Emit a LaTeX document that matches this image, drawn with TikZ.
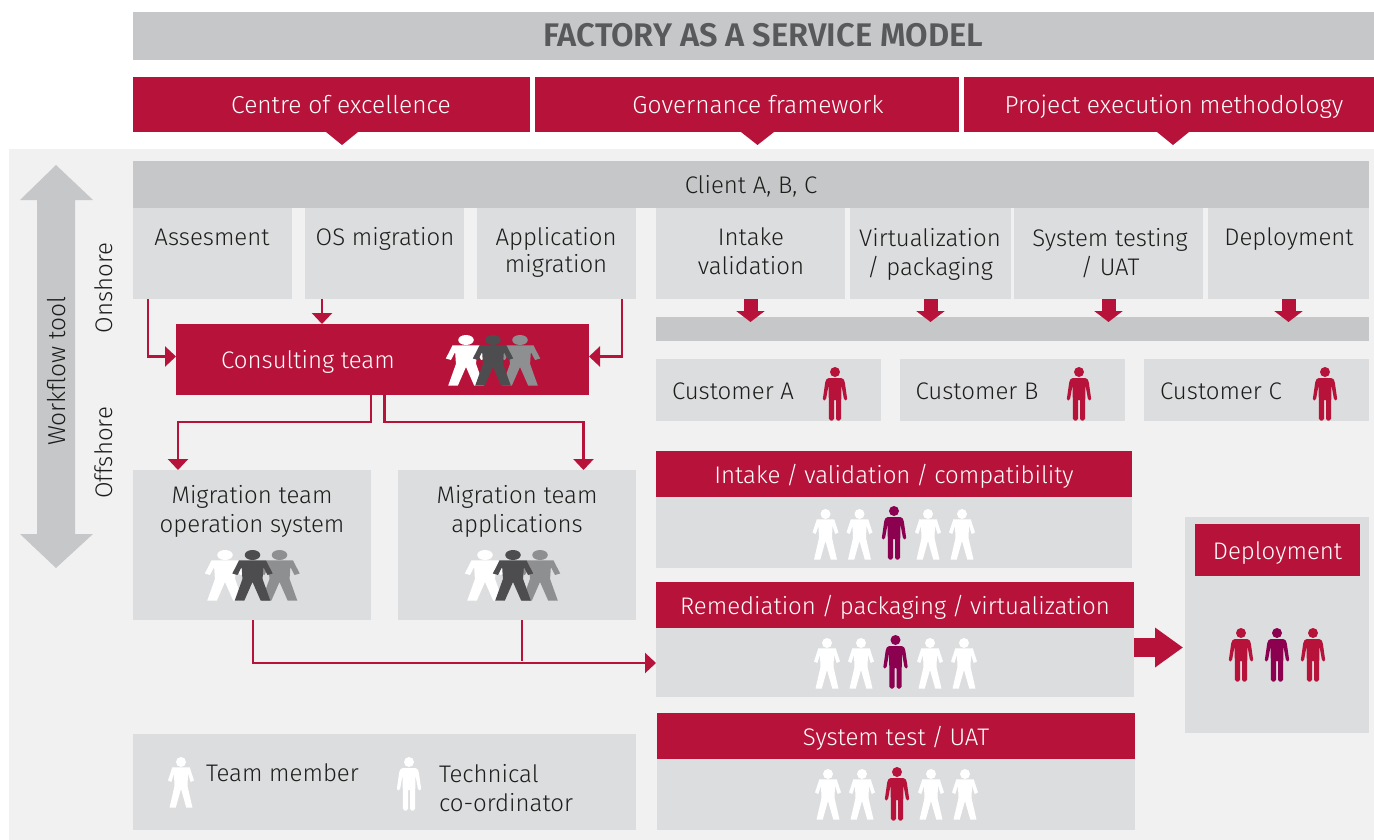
\documentclass[tikz,border=0pt]{standalone}
\usepackage{fontspec}
\setmainfont{Fira Sans}[UprightFont=* Light,BoldFont=* SemiBold]
\usetikzlibrary{arrows.meta,calc}
\definecolor{rd}{HTML}{B7133A}
\definecolor{pur}{HTML}{8C0050}
\definecolor{lg}{HTML}{DCDDDF}
\definecolor{mg}{HTML}{C6C7C9}
\definecolor{bgp}{HTML}{F1F1F1}
\definecolor{ink}{HTML}{1D1D1B}
\definecolor{dk}{HTML}{4D4D4F}
\definecolor{gr}{HTML}{8E8F91}
\definecolor{ttl}{HTML}{58595B}
\newcommand{\bx}[7][]{% style, name, x1,y1,x2,y2, text
  \node[#1,minimum width={(#5-#3)*1pt},minimum height={(#6-#4)*1pt}] (#2) at ({(#3+#5)/2},{(#4+#6)/2}) {#7};}
\newcommand{\slh}{\hspace{-1pt}/\hspace{-1pt}}
\newcommand{\tm}[4][1]{\begin{scope}[shift={(#2,#3)},xscale=#1]
  \fill[#4] (0,0) circle (5);
  \fill[#4] (-8.7,5.3)--(8.7,5.3)--(13,18.5)--(9.7,20)--(7,12)--(6.5,24)--(11.5,45.7)--(5.3,45.7)--(0,27)--(-5.3,45.7)--(-11.5,45.7)--(-6.5,24)--(-7,12)--(-9.7,20)--(-13,18.5)--cycle;
\end{scope}}
\newcommand{\tc}[3]{\begin{scope}[shift={(#1,#2)}]
  \fill[#3] (0,0) circle (5);
  \fill[#3,rounded corners=1.6] (-7.8,6)--(7.8,6)--(9.6,9)--(12.4,28.5)--(9.2,28.5)--(6.4,13)--(6,48.5)--(1,48.5)--(1,27)--(-1,27)--(-1,48.5)--(-6,48.5)--(-6.4,13)--(-9.2,28.5)--(-12.4,28.5)--(-9.6,9)--cycle;
\end{scope}}
\tikzset{
  x=1pt,y=-1pt,
  base/.style={inner sep=0pt,outer sep=0pt,text=ink,font=\fontsize{24}{27}\selectfont,text height=18pt,text depth=0pt},
  light/.style={base,fill=lg},
  mid/.style={base,fill=mg},
  red/.style={base,fill=rd,text=white},
  lab/.style={inner sep=0pt,outer sep=0pt,text=ink,align=center,font=\fontsize{24}{29}\selectfont},
  one/.style={inner sep=0pt,outer sep=0pt,text=ink,font=\fontsize{24}{28.5}\selectfont,text height=17pt,text depth=0pt},
  onew/.style={one,text=white},
  top/.style={onew,font=\fontsize{24.5}{28.5}\selectfont},
  conn/.style={draw=rd,line width=2.4pt,-{Triangle[width=20pt,length=11pt]}},
  line/.style={draw=rd,line width=2.4pt},
  block/.style={draw=rd,line width=14pt,-{Triangle[width=28pt,length=11pt]}},
  blockb/.style={draw=rd,line width=19pt,-{Triangle[width=38pt,length=28pt]}},
}
\begin{document}
\begin{tikzpicture}
\useasboundingbox (0,0) rectangle (1374,840);
\fill[white] (0,0) rectangle (1374,840);
\fill[bgp] (9,149) rectangle (1374,840);
% top
\bx[mid]{titlebar}{133}{12}{1374}{60}{}
\node[one,text=ttl,font=\fontsize{32.7}{36}\bfseries,text height=22pt] (title) at (763.5,36) {FACTORY AS A SERVICE MODEL};
\fill[rd] (326,132)--(358,132)--(342,145)--cycle;
\fill[rd] (741,132)--(774,132)--(757.5,145)--cycle;
\fill[rd] (1157,132)--(1189,132)--(1173,145)--cycle;
\bx[red]{coe}{133}{77}{530}{132}{}
\bx[red]{gov}{535}{77}{959}{132}{}
\bx[red]{pem}{964}{77}{1374}{132}{}
\node[top] (tcoe) at (341,105.5) {Centre of excellence};
\node[top] (tgov) at (758,105.5) {Governance framework};
\node[top] (tpem) at (1174,105.5) {Project execution methodology};
% workflow arrow
\fill[mg] (56,165)--(93,200)--(75,200)--(75,534)--(93,534)--(56,568)--(20,534)--(37,534)--(37,200)--(20,200)--cycle;
\node[lab,rotate=90,font=\fontsize{24.5}{28}\selectfont] (wf) at (57,371) {Workflow tool};
\node[lab,rotate=90] (on) at (104,288) {Onshore};
\node[lab,rotate=90] (off) at (104,453) {Offshore};
% client
\bx[mid]{client}{133}{161}{1369}{208}{Client A, B, C}
\bx[light]{asses}{133}{208}{292}{299}{}
\bx[light]{osm}{305}{208}{464}{299}{}
\bx[light]{appm}{477}{208}{636}{299}{}
\bx[light]{intv}{656}{208}{845}{299}{}
\bx[light]{virt}{850}{208}{1011}{299}{}
\bx[light]{syst}{1014}{208}{1203}{299}{}
\bx[light]{depl}{1208}{208}{1369}{299}{}
\node[one] (t1) at (212,236.5) {Assesment};
\node[one] (t2) at (385,236.5) {OS migration};
\node[lab,anchor=north] (t3) at (556,227) {Application\\[-2pt]migration};
\node[lab,anchor=north] (t4) at (751,228) {Intake\\validation};
\node[lab,anchor=north] (t5) at (930,228) {Virtualization\\/ packaging};
\node[lab,anchor=north] (t6) at (1110,228) {System testing\\/ UAT};
\node[one] (t7) at (1289,236.5) {Deployment};
\bx[mid]{bar}{656}{317}{1369}{341}{}
\coordinate (barT) at (0,322);
\foreach \n in {intv,virt,syst,depl}{\draw[block] (\n.south) -- (\n.south |- barT);}
% customers
\bx[light]{ca}{656}{359}{881}{421}{}
\bx[light]{cb}{900}{359}{1125}{421}{}
\bx[light]{cc}{1144}{359}{1369}{421}{}
\node[one] (tca) at (733,391) {Customer A};
\node[one] (tcb) at (977,391) {Customer B};
\node[one] (tcc) at (1221,391) {Customer C};
\tc{835}{372}{rd}\tc{1079}{372}{rd}\tc{1325}{372}{rd}
% consulting
\bx[red]{cons}{176}{324}{589}{395}{}
\node[onew] (tcons) at (308,359.5) {Consulting team};
\tm[1.55]{466}{340}{white}\tm[1.55]{520}{340}{gr}\tm[1.55]{493}{340}{dk}
\coordinate (a1) at (148,356.5);
\coordinate (a2) at (322,0);
\coordinate (a3) at (622,356.5);
\draw[conn] (a1 |- asses.south) -- (a1) -- (cons.west |- a1);
\draw[conn] (a2 |- osm.south) -- (a2 |- cons.north);
\draw[conn] (a3 |- appm.south) -- (a3) -- (cons.east |- a3);
% migration
\bx[light]{mig1}{133}{470}{371}{620}{}
\bx[light]{mig2}{398}{470}{636}{620}{}
\node[lab,anchor=north] (tm1) at (252,485) {Migration team\\operation system};
\node[lab,anchor=north] (tm2) at (517,485) {Migration team\\applications};
\tm[1.55]{225}{555}{white}\tm[1.55]{279.5}{555}{gr}\tm[1.55]{252.5}{555}{dk}
\tm[1.55]{485}{555}{white}\tm[1.55]{540}{555}{gr}\tm[1.55]{513}{555}{dk}
\coordinate (b1) at (371,422);
\coordinate (b2) at (178,422);
\coordinate (b3) at (384.5,422);
\coordinate (b4) at (583.5,422);
\draw[conn] (b1 |- cons.south) -- (b1) -- (b2) -- (b2 |- mig1.north);
\draw[conn] (b3 |- cons.south) -- (b3) -- (b4) -- (b4 |- mig2.north);
% factory
\bx[light]{ib}{656}{497}{1132}{568}{}
\bx[red]{ih}{656}{451}{1132}{497}{Intake \slh{} validation \slh{} compatibility}
\bx[light]{rb}{656}{628}{1134}{697}{}
\bx[red]{rh}{656}{582}{1134}{628}{Remediation \slh{} packaging \slh{} virtualization}
\bx[light]{sb}{657}{759}{1135}{830}{}
\bx[red]{sh}{657}{713}{1135}{759}{System test \slh{} UAT}
\tm{825.5}{514}{white}\tm{859.5}{514}{white}\tc{894}{511}{pur}\tm{928}{514}{white}\tm{962}{514}{white}
\tm{827}{643}{white}\tm{861}{643}{white}\tc{895.5}{640}{pur}\tm{930}{643}{white}\tm{964}{643}{white}
\tm{828}{774}{white}\tm{862}{774}{white}\tc{897}{772}{rd}\tm{931}{774}{white}\tm{965}{774}{white}
% deployment
\bx[light]{dp}{1185}{517}{1369}{733}{}
\bx[red]{dh}{1195}{524}{1360}{576}{Deployment}
\tc{1241}{633}{rd}\tc{1277}{633}{pur}\tc{1313}{633}{rd}
\coordinate (c1) at (1183,647.5);
\draw[blockb] (rh.south east |- c1) -- (c1);
% bottom connector
\coordinate (d1) at (253,663);
\coordinate (d2) at (522,661);
\draw[conn] (d1 |- mig1.south) -- (d1) -- (rb.west |- d1);
\draw[line] (d2 |- mig2.south) -- (d2);
% legend
\bx[light]{leg}{133}{734}{636}{830}{}
\tm{181}{762}{white}
\tc{409}{762}{white}
\node[one,anchor=west] (l1) at (206,772.5) {Team member};
\node[lab,anchor=west,align=left] (l2) at (439,788) {Technical\\co-ordinator};
\end{tikzpicture}
\end{document}
